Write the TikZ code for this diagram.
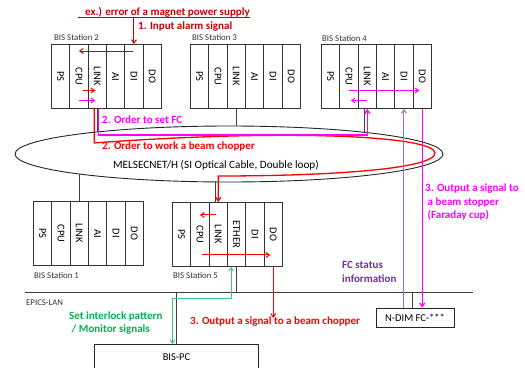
\documentclass[tikz,border=0pt]{standalone}
\usepackage{graphicx}
\usepackage{fontspec}
\setmainfont{Carlito}
\usepackage{tikz}
\usetikzlibrary{positioning,arrows.meta,calc,shapes.geometric,backgrounds}
\definecolor{alarmred}{RGB}{200,0,0}
\definecolor{chopred}{RGB}{255,0,0}
\definecolor{fcmag}{RGB}{255,0,255}
\definecolor{fcpurple}{RGB}{112,48,160}
\definecolor{fcline}{RGB}{160,110,210}
\definecolor{lgreen}{RGB}{0,176,80}
\definecolor{lgline}{RGB}{60,200,120}

\begin{document}
\begin{tikzpicture}[x=1pt, y=-1pt,
  slot/.style={draw=black!80, line width=0.9pt, minimum width=18.33pt, minimum height=64pt, inner sep=0pt, anchor=north west, font=\fontsize{10.5}{12}\selectfont},
  stn/.style={font=\fontsize{8.8}{10}\selectfont, text=black!80, inner sep=0pt, anchor=west},
  lbl/.style={font=\bfseries\fontsize{11}{13.5}\selectfont, inner sep=0pt, align=left, anchor=west},
  wire/.style={line width=0.8pt, black!75},
  sig/.style={-{Straight Barb[length=3.5pt,width=5pt]}, line width=1pt},
  pcbox/.style={draw=black!85, line width=0.9pt, inner sep=0pt, font=\fontsize{10.5}{12}\selectfont}
]
\useasboundingbox (0,0) rectangle (525,367);

% stations
\foreach \lab [count=\i] in {PS,CPU,LINK,AI,DI,DO}
  \node[slot] (s2-\i) at ({51+(\i-1)*18.33},44) {\rotatebox{-90}{\lab}};
\foreach \lab [count=\i] in {PS,CPU,LINK,AI,DI,DO}
  \node[slot] (s3-\i) at ({190+(\i-1)*18.33},44) {\rotatebox{-90}{\lab}};
\foreach \lab [count=\i] in {PS,CPU,LINK,AI,DI,DO}
  \node[slot] (s4-\i) at ({321+(\i-1)*18.33},44) {\rotatebox{-90}{\lab}};
\foreach \lab [count=\i] in {PS,CPU,LINK,AI,DI,DO}
  \node[slot] (s1-\i) at ({33+(\i-1)*18.33},201) {\rotatebox{-90}{\lab}};
\foreach \lab [count=\i] in {PS,CPU,LINK,ETHER,DI,DO}
  \node[slot] (s5-\i) at ({172+(\i-1)*18.33},202) {\rotatebox{-90}{\lab}};

\node[stn] (st2) at ($(s2-1.north west)+(3,-7)$) {BIS Station 2};
\node[stn] (st3) at ($(s3-1.north west)+(2,-7)$) {BIS Station 3};
\node[stn] (st4) at ($(s4-1.north west)+(1,-6)$) {BIS Station 4};
\node[stn] (st1) at ($(s1-1.south west)+(1,10)$) {BIS Station 1};
\node[stn] (st5) at ($(s5-1.south west)+(1,9)$) {BIS Station 5};

% network ring
\node[draw=black!85, line width=0.9pt, fill=white, ellipse, minimum width=428pt, minimum height=56pt, inner sep=0pt] (net) at (229,154) {};
\node[font=\fontsize{11.2}{13}\selectfont, inner sep=0pt] (netlbl) at (216,165) {MELSECNET/H (SI Optical Cable, Double loop)};
\begin{scope}[on background layer]
\draw[wire] (s2-3.south) -- (s2-3.south |- net.center);
\draw[wire] (s3-3.south) -- (s3-3.south |- net.center);
\draw[wire] ([xshift=-3pt]s4-3.south) -- ([xshift=-3pt]s4-3.south |- net.center);
\draw[wire] (s1-3.north) -- (s1-3.north |- net.center);
\draw[wire] ([xshift=-2.5pt]s5-3.north) -- ([xshift=-2.5pt]s5-3.north |- net.center);
\end{scope}

% EPICS-LAN
\coordinate (lanL) at (25,292);
\coordinate (lanR) at (473,292);
\draw[wire, line width=1pt] (lanL) -- (lanR);
\node[stn] (epics) at (26,303) {EPICS-LAN};
\node[pcbox, minimum width=164pt, minimum height=25pt, anchor=north west] (pc) at (94,344) {BIS-PC};
\node[pcbox, minimum width=78pt, minimum height=19pt] (ndim) at (415,317.5) {N-DIM FC-***};
\draw[wire] (s5-4.south) -- (s5-4.south |- lanL);
\draw[wire] (pc.north) -- (pc.north |- lanL);
\draw[wire] ([xshift=-3pt]ndim.north) -- ([xshift=-3pt]ndim.north |- lanL);

% 1. alarm
\node[lbl, alarmred] (alarm) at (85,12) {ex.) error of a magnet power supply};
\draw[alarmred, line width=0.9pt] ([xshift=-7pt]alarm.south west) -- (alarm.south east);
\draw[alarmred, sig] (s2-5.north |- alarm.south) -- (s2-5.north);
\node[lbl, alarmred] (inlbl) at (138,27) {1. Input alarm signal};
\draw[alarmred, sig] ($(s2-5.north)+(-1,7)$) -- ($(s2-2.north)+(0,7)$);
\draw[chopred, sig] ($(s2-2.center)+(4,14)$) -- ($(s2-3.center)+(-2,14)$);
\draw[fcmag, sig] ($(s2-2.center)+(0,24)$) -- ($(s2-3.center)+(-2,24)$);

% 2. orders over the ring
\draw[chopred, sig, line width=1.3pt] ([xshift=-3pt]s2-3.south) -- ++(0,34)
  .. controls (300,128) and (435,137) .. (435,153)
  .. controls (435,169) and (330,176) .. (s5-3.north |- 0,176) -- (s5-3.north);
\draw[fcmag, sig, line width=1.3pt] ([xshift=1pt]s2-3.south) -- ++(0,26) -| (s4-3.south);
\node[lbl, fcmag] (setfc) at (102,120) {2. Order to set FC};
\node[lbl, chopred] (chop) at (102,147) {2. Order to work a beam chopper};

% 3. outputs
\draw[chopred, sig] ($(s5-3.center)+(-2.5,-19.5)$) -- ($(s5-2.center)+(0,-19.5)$);
\draw[chopred, sig] ($(s5-2.center)+(2,20.5)$) -- ($(s5-6.center)+(-3,20.5)$);
\draw[chopred, sig] (s5-6.south) -- ++(0,51);
\node[lbl, chopred] (chopout) at (190,322) {3. Output a signal to a beam chopper};
\draw[fcmag, sig] ($(s4-2.center)+(0,14)$) -- ($(s4-6.center)+(-3,14)$);
\draw[fcmag, sig] ($(s4-3.center)+(0,24)$) -- ($(s4-2.center)+(2,24)$);
\draw[fcmag, sig, line width=1.3pt] (s4-6.south) -- (s4-6.south |- ndim.north);
\draw[fcline, sig] (s4-5.south |- ndim.north) -- (s4-5.south);
\node[lbl, fcmag, anchor=north west] (stopper) at (425,184) {3. Output a signal to\\\ a beam stopper\\\ (Faraday cup)};
\node[lbl, fcpurple] (fcstat) at (342,272) {FC status\\information};

% EPICS side
\draw[lgline, {Straight Barb[length=3.5pt,width=5pt]}-{Straight Barb[length=3.5pt,width=5pt]}, line width=0.9pt]
  ([xshift=-5.5pt]s5-4.south) -- ++(0,32) -| ([xshift=-4pt]pc.north);
\node[lbl, lgreen] (ilk) at (69,323) {Set interlock pattern\\\ / Monitor signals};
\end{tikzpicture}
\end{document}
